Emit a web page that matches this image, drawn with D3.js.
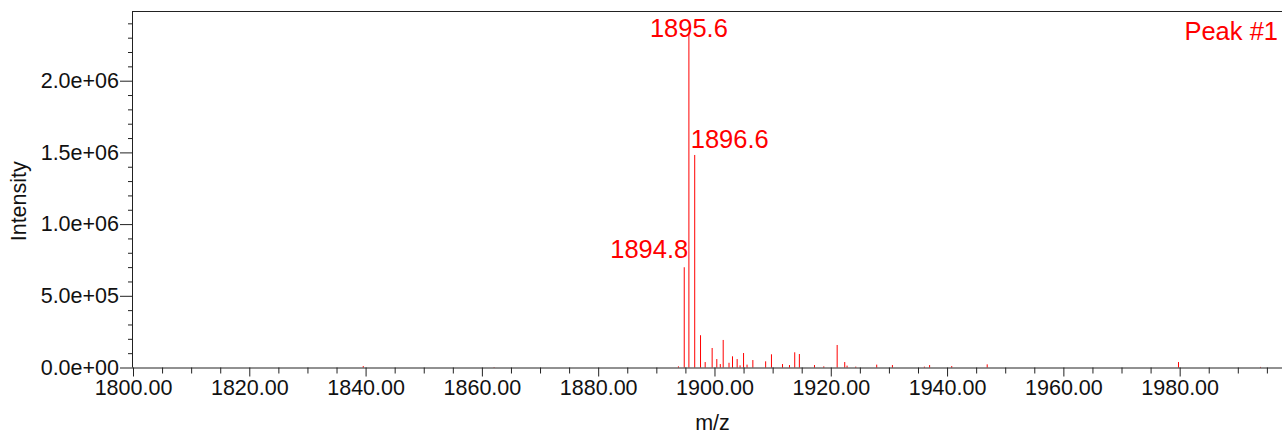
<!DOCTYPE html>
<html>
<head>
<meta charset="utf-8">
<script src="https://cdn.jsdelivr.net/npm/d3@7"></script>
<style>
  html, body { margin: 0; padding: 0; background: #fff; }
  svg { display: block; font-family: "Liberation Sans", Arial, sans-serif; }
</style>
</head>
<body>
<svg id="chart" width="1282" height="434"></svg>
<script>
// ---- data ----
const mzValues = [1839.6, 1862.1, 1893.8, 1894.8, 1895.6, 1896.6, 1897.6, 1898.4, 1899.6, 1900.4,
  1901.0, 1901.5, 1902.5, 1903.1, 1903.9, 1904.4, 1905.0, 1905.6, 1906.6, 1908.8,
  1909.8, 1911.7, 1912.9, 1913.8, 1914.6, 1917.2, 1918.8, 1921.1, 1922.4, 1922.8,
  1924.3, 1927.9, 1930.6, 1936.1, 1937.0, 1940.8, 1946.9, 1979.8, 1993.9];
const intensities = [1.0e4, 3e3, 8e3, 6.99e5, 2.33e6, 1.482e6, 2.25e5, 3.8e4, 1.36e5, 5.9e4,
  2.4e4, 1.92e5, 3.3e4, 7.8e4, 5.9e4, 1.5e4, 1.01e5, 2.0e4, 5.2e4, 4.3e4,
  9.2e4, 2.4e4, 1.7e4, 1.06e5, 9.4e4, 1.7e4, 8e3, 1.57e5, 3.8e4, 1.3e4,
  6e3, 2.0e4, 1.7e4, 6e3, 1.7e4, 1.0e4, 2.2e4, 3.8e4, 4e3];
const labelledPeaks = [1894.8, 1895.6, 1896.6];
const labelTexts = ["1894.8", "1895.6", "1896.6"];
const xMajorTicks = [1800, 1820, 1840, 1860, 1880, 1900, 1920, 1940, 1960, 1980];
const xTickLabels = ["1800.00", "1820.00", "1840.00", "1860.00", "1880.00", "1900.00", "1920.00", "1940.00", "1960.00", "1980.00"];
const yMajorTicks = [0, 5e5, 1e6, 1.5e6, 2e6];
const yTickLabels = ["0.0e+00", "5.0e+05", "1.0e+06", "1.5e+06", "2.0e+06"];
const xDomain = [1800, 1997.6];
const yDomain = [0, 2.486e6];
const titleText = "Peak #1";
const xTitle = "m/z";
const yTitle = "Intensity";

// ---- layout ----
const svg = d3.select("#chart");
const pLeft = 133, pRight = 1282, pTop = 11, pBottom = 367.5;
const x = d3.scaleLinear().domain(xDomain).range([pLeft, pRight]);
const y = d3.scaleLinear().domain(yDomain).range([pBottom, pTop]);
const axisColor = "#222";
const red = "#ff0000";
const fontSize = "21.5px";

// peaks
const peaks = mzValues.map((m, i) => ({ mz: m, v: intensities[i] }));
svg.append("g").selectAll("line").data(peaks).join("line")
  .attr("x1", d => x(d.mz)).attr("x2", d => x(d.mz))
  .attr("y1", y(0)).attr("y2", d => y(d.v))
  .attr("stroke", red).attr("stroke-width", 1);

// frame top line
svg.append("line").attr("x1", pLeft).attr("x2", pRight).attr("y1", pTop + 0.5).attr("y2", pTop + 0.5)
  .attr("stroke", axisColor).attr("stroke-width", 1);

// x axis minor ticks
const xMinor = d3.range(1800, 1997, 5).filter(v => !xMajorTicks.includes(v));
const gxMinor = svg.append("g").attr("transform", `translate(0,${pBottom})`)
  .call(d3.axisBottom(x).tickValues(xMinor).tickSize(6).tickFormat(""));
gxMinor.select(".domain").remove();
gxMinor.selectAll("line").attr("stroke", axisColor);

const gx = svg.append("g").attr("transform", `translate(0,${pBottom})`)
  .call(d3.axisBottom(x).tickValues(xMajorTicks).tickSize(9).tickPadding(3)
    .tickFormat((d, i) => xTickLabels[i]));
gx.select(".domain").attr("stroke", axisColor).attr("d", `M${pLeft},0.5H${pRight}`);
gx.selectAll("line").attr("stroke", axisColor);
gx.selectAll("text").attr("font-size", fontSize).attr("fill", "#111")
  .attr("font-family", "'Liberation Sans', Arial, sans-serif");

// y axis minor ticks
const yMinor = d3.range(1e5, 2.45e6, 1e5).filter(v => !yMajorTicks.some(t => Math.abs(t - v) < 1));
const gyMinor = svg.append("g").attr("transform", `translate(${pLeft},0)`)
  .call(d3.axisLeft(y).tickValues(yMinor).tickSize(5).tickFormat(""));
gyMinor.select(".domain").remove();
gyMinor.selectAll("line").attr("stroke", axisColor);

const gy = svg.append("g").attr("transform", `translate(${pLeft},0)`)
  .call(d3.axisLeft(y).tickValues(yMajorTicks).tickSize(13).tickPadding(1)
    .tickFormat((d, i) => yTickLabels[i]));
gy.select(".domain").attr("stroke", axisColor).attr("d", `M-0.5,${pTop}V${pBottom}`);
gy.selectAll("line").attr("stroke", axisColor);
gy.selectAll("text").attr("font-size", fontSize).attr("fill", "#111")
  .attr("font-family", "'Liberation Sans', Arial, sans-serif");

// axis titles
svg.append("text").attr("x", (pLeft + pRight) / 2 + 5).attr("y", 430)
  .attr("text-anchor", "middle").attr("font-size", fontSize).attr("fill", "#111").text(xTitle);
svg.append("text").attr("transform", `translate(26,${(pTop + pBottom) / 2 + 12}) rotate(-90)`)
  .attr("text-anchor", "middle").attr("font-size", fontSize).attr("fill", "#111").text(yTitle);

// peak labels
const maxV = d3.max(intensities);
const maxMz = mzValues[intensities.indexOf(maxV)];
labelledPeaks.forEach((m, i) => {
  const v = intensities[mzValues.indexOf(m)];
  let anchor = "middle", dx = 0, dy = 4;
  if (m > maxMz) { anchor = "start"; dx = -4; dy = -7; }
  else if (m < maxMz) { anchor = "end"; dx = 4; dy = -9; }
  svg.append("text")
    .attr("x", x(m) + dx).attr("y", y(v) + dy)
    .attr("text-anchor", anchor).attr("font-size", "25.5px").attr("fill", red)
    .text(labelTexts[i]);
});

// title
svg.append("text").attr("x", 1278).attr("y", 40).attr("text-anchor", "end")
  .attr("font-size", "25.5px").attr("fill", red).text(titleText);
</script>
</body>
</html>
